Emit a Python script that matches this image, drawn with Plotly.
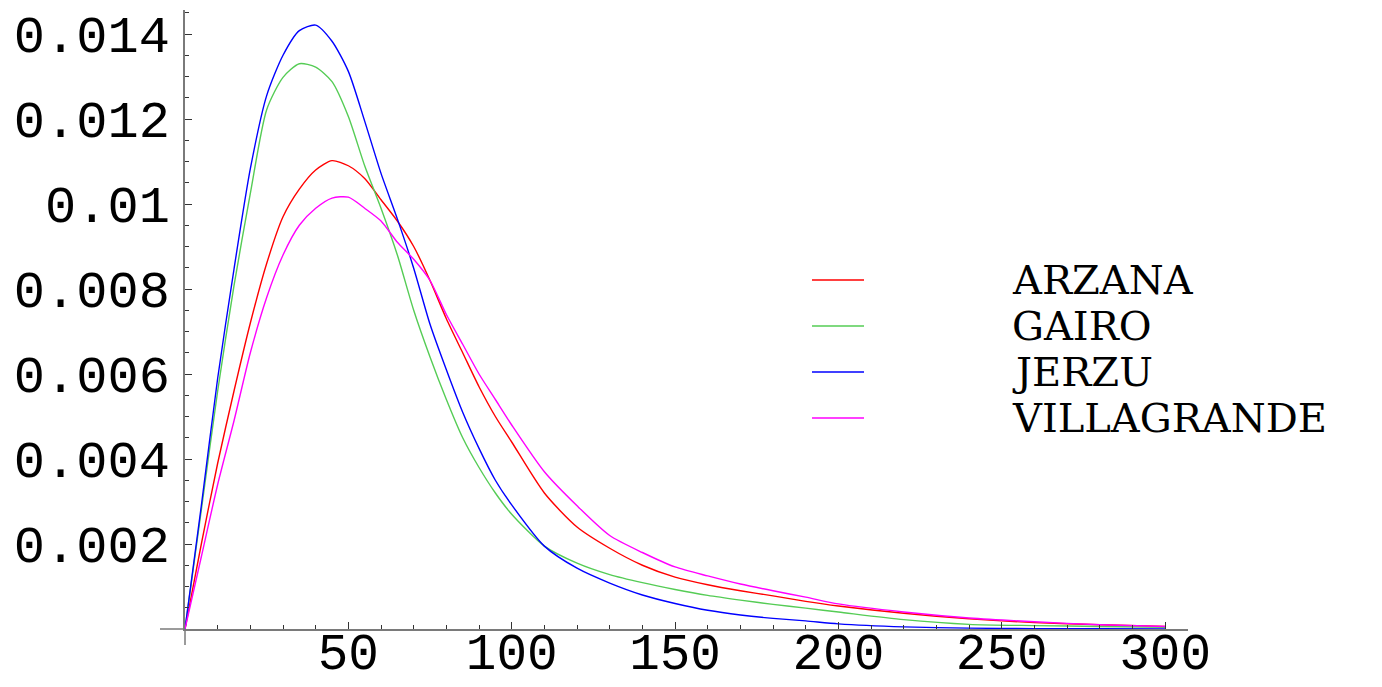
import plotly.graph_objects as go

# Sample points along x (days) shared by all four curves
x_vals = [0, 5, 10, 15, 20, 25, 30, 35, 40, 45, 50, 55, 60, 65, 70, 75, 80, 85, 90, 95,
          100, 110, 120, 130, 140, 150, 160, 170, 180, 190, 200, 220, 240, 260, 280, 300]

arzana = [0, 0.0020, 0.0039, 0.0056, 0.0072, 0.0086, 0.0097, 0.01035, 0.0108, 0.01102,
          0.0109, 0.0106, 0.0101, 0.0096, 0.0090, 0.0082, 0.0073, 0.0065, 0.0057, 0.0050,
          0.0044, 0.0032, 0.0024, 0.0019, 0.0015, 0.00122, 0.00104, 0.0009, 0.00078, 0.00065,
          0.00054, 0.00037, 0.00024, 0.00015, 0.0001, 0.00006]

gairo = [0, 0.0028, 0.0056, 0.00808, 0.01025, 0.01222, 0.01298, 0.0133, 0.01322, 0.01288,
         0.01206, 0.0109, 0.0099, 0.0088, 0.0075, 0.0064, 0.0054, 0.0045, 0.0038, 0.0032,
         0.0027, 0.00195, 0.00155, 0.00128, 0.00109, 0.00093, 0.00079, 0.00068, 0.00058, 0.00049,
         0.0004, 0.00022, 0.00011, 0.00008, 0.00006, 0.00004]

jerzu = [0, 0.0029, 0.0059, 0.00847, 0.01083, 0.01255, 0.0135, 0.01408, 0.01421, 0.01383,
         0.01312, 0.01195, 0.01072, 0.00965, 0.00849, 0.00717, 0.0061, 0.0051, 0.00425, 0.0035,
         0.00292, 0.00195, 0.00143, 0.00108, 0.0008, 0.0006, 0.00044, 0.00033, 0.00025, 0.00019,
         0.00012, 0.00005, 0.00002, 0.00001, 0.000005, 0]

villagrande = [0, 0.0017, 0.0034, 0.0049, 0.0065, 0.0078, 0.0088, 0.0095, 0.0099, 0.01014,
               0.01016, 0.0099, 0.0096, 0.0091, 0.0087, 0.0082, 0.0074, 0.0067, 0.0060, 0.0054,
               0.0048, 0.0037, 0.0029, 0.0022, 0.0018, 0.00146, 0.00125, 0.00106, 0.0009, 0.00075,
               0.00059, 0.0004, 0.00026, 0.00017, 0.0001, 0.00006]

names = ["ARZANA", "GAIRO", "JERZU", "VILLAGRANDE"]
colors = ["#ff0000", "#55cc55", "#0000ff", "#ff00ff"]
series = [arzana, gairo, jerzu, villagrande]

x_ticks = [50, 100, 150, 200, 250, 300]
x_ticktext = ["50", "100", "150", "200", "250", "300"]
y_ticks = [0.002, 0.004, 0.006, 0.008, 0.010, 0.012, 0.014]
y_ticktext = ["0.002", "0.004", "0.006", "0.008", "0.01", "0.012", "0.014"]

W, H = 1382, 687
L, R, T, B = 185, 1188, 10, 629  # plot area in pixels
FONT = "Liberation Mono, Courier New, monospace"
LEGEND_FONT = "DejaVu Serif, serif"

fig = go.Figure()
for name, col, ys in zip(names, colors, series):
    fig.add_trace(go.Scatter(x=x_vals, y=ys, mode="lines", name=name,
                             line=dict(color=col, width=1.4, shape="spline", smoothing=0.7),
                             showlegend=False))

x_max = (R - L) / 3.267
y_max = (B - T) / 42500.0


def px_x(p):
    return (p - L) / (R - L)


def px_y(p):
    return (B - p) / (B - T)


axis_col = "#7a7a7a"
tick_col = "#333333"

fig.update_layout(
    width=W, height=H,
    margin=dict(l=L, r=W - R, t=T, b=H - B),
    paper_bgcolor="white", plot_bgcolor="white",
    font=dict(family=FONT, size=52, color="black"),
    xaxis=dict(range=[0, x_max], showgrid=False, zeroline=False, automargin=False,
               showline=True, linecolor=axis_col, linewidth=1.5,
               tickmode="array", tickvals=x_ticks, ticktext=x_ticktext,
               ticks="inside", ticklen=7, tickwidth=1, tickcolor=tick_col,
               minor=dict(tickmode="linear", tick0=0, dtick=10, ticks="inside",
                          ticklen=4, tickwidth=1, tickcolor=tick_col, showgrid=False),
               tickfont=dict(family=FONT, size=51), ticklabelstandoff=-23),
    yaxis=dict(range=[0, y_max], showgrid=False, zeroline=False, automargin=False,
               showline=True, linecolor=axis_col, linewidth=1.5,
               tickmode="array", tickvals=y_ticks, ticktext=y_ticktext,
               ticks="inside", ticklen=7, tickwidth=1, tickcolor=tick_col,
               minor=dict(tickmode="linear", tick0=0, dtick=0.0005, ticks="inside",
                          ticklen=4, tickwidth=1, tickcolor=tick_col, showgrid=False),
               tickfont=dict(family=FONT, size=52), ticklabelstandoff=3),
)

# axis extensions past the origin
fig.add_shape(type="line", xref="paper", yref="paper",
              x0=px_x(160), x1=0, y0=0, y1=0,
              line=dict(color=axis_col, width=1.5))
fig.add_shape(type="line", xref="paper", yref="paper",
              x0=0, x1=0, y0=px_y(645), y1=0,
              line=dict(color=axis_col, width=1.5))

# legend: line samples and labels
legend_rows = [280, 326, 372, 418]
for name, col, yrow in zip(names, colors, legend_rows):
    fig.add_shape(type="line", xref="paper", yref="paper",
                  x0=px_x(812), x1=px_x(864), y0=px_y(yrow), y1=px_y(yrow),
                  line=dict(color=col, width=1.4))
    fig.add_annotation(xref="paper", yref="paper", x=px_x(1010), y=px_y(yrow),
                       text=name, showarrow=False, xanchor="left", yanchor="middle",
                       font=dict(family=LEGEND_FONT, size=40, color="black"))

fig.write_html("out.html")
